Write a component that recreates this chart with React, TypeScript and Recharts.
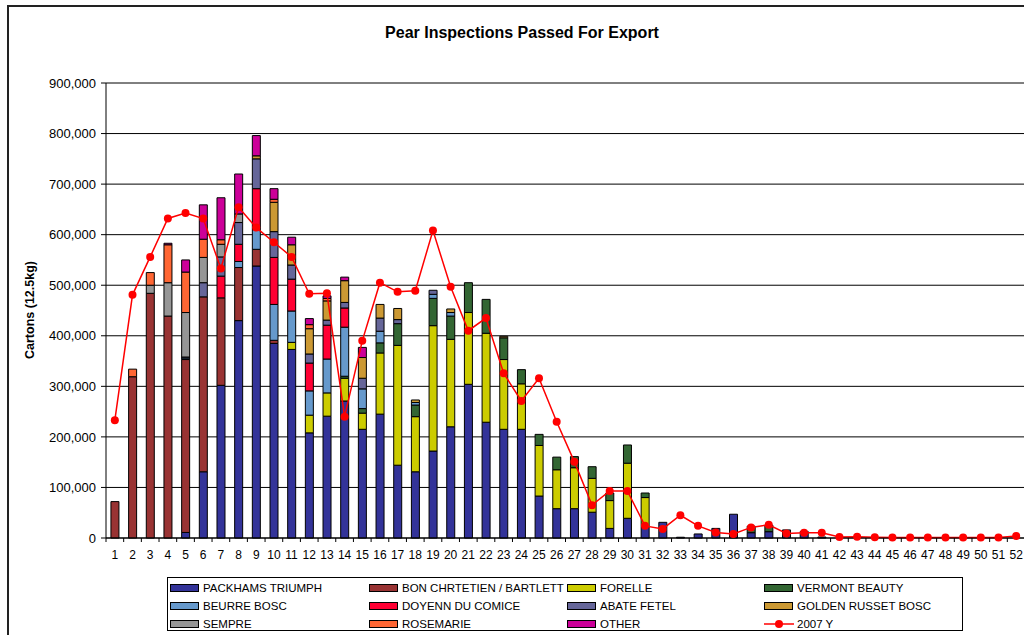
import React from "react";
import { ComposedChart, Bar, Line, XAxis, YAxis, CartesianGrid } from "recharts";

const WEEKS = ["1","2","3","4","5","6","7","8","9","10","11","12","13","14","15","16","17","18","19","20","21","22","23","24","25","26","27","28","29","30","31","32","33","34","35","36","37","38","39","40","41","42","43","44","45","46","47","48","49","50","51","52"];

const PACKHAMS = [0,0,0,0,11000,131000,302000,430000,538000,385000,
  373000,208000,241000,271000,215000,245000,144000,131000,172000,220000,
  304000,229000,215000,215000,83000,58000,58000,51000,19000,39000,
  22000,31000,1500,8000,19000,47000,10500,12500,16000,13000,
  2000,0,0,0,0,0,0,0,0,0,
  0,0];
const BARTLETT = [72000,319000,484000,439000,342000,346000,173000,105000,33000,6000,
  0,0,0,0,0,0,0,0,0,0,
  0,0,0,0,0,0,0,0,0,0,
  0,0,0,0,0,0,0,0,0,0,
  0,0,0,0,0,0,0,0,0,0,
  0,0];
const FORELLE = [0,0,0,0,0,0,0,0,0,0,
  14000,35000,46000,45000,32000,121000,237000,109000,248000,173000,
  142000,176000,138000,90000,100000,77000,81000,67000,55000,109000,
  58000,0,0,0,0,0,0,0,0,0,
  0,0,0,0,0,0,0,0,0,0,
  0,0];
const VERMONT = [0,0,0,0,0,0,0,0,0,0,
  0,0,0,4000,9000,20000,43000,23000,54000,46000,
  59000,67000,43000,28000,22000,25000,22000,23000,15000,36000,
  9000,0,0,0,0,0,13000,13000,0,0,
  0,0,0,0,0,0,0,0,0,0,
  0,0];
const BEURRE_BOSC = [0,0,0,0,3000,0,0,12000,39000,71000,
  62000,48000,67000,97000,39000,23000,0,5000,8000,7000,
  0,0,0,0,0,0,0,0,0,0,
  0,0,0,0,0,0,0,0,0,0,
  0,0,0,0,0,0,0,0,0,0,
  0,0];
const DOYENNE = [0,0,0,0,0,0,43000,34000,81000,93000,
  63000,55000,67000,38000,0,0,0,0,0,0,
  0,0,0,0,0,0,0,0,0,0,
  0,0,0,0,0,0,0,0,0,0,
  0,0,0,0,0,0,0,0,0,0,
  0,0];
const ABATE = [0,0,0,0,2000,28000,38000,43000,59000,51000,
  28000,18000,10000,11000,21000,26000,8000,0,8000,0,
  0,0,0,0,0,0,0,0,0,0,
  0,0,0,0,0,0,0,0,0,0,
  0,0,0,0,0,0,0,0,0,0,
  0,0];
const GOLDEN = [0,0,0,0,0,0,0,0,6000,58000,
  40000,50000,38000,43000,41000,27000,22000,5000,0,7000,
  0,0,3000,0,0,0,0,0,0,0,
  0,0,0,0,0,0,0,0,0,0,
  0,0,0,0,0,0,0,0,0,0,
  0,0];
const SEMPRE = [0,0,16000,66000,88000,50000,25000,17000,0,0,
  0,0,0,0,0,0,0,0,0,0,
  0,0,0,0,0,0,0,0,0,0,
  0,0,0,0,0,0,0,0,0,0,
  0,0,0,0,0,0,0,0,0,0,
  0,0];
const ROSEMARIE = [0,15000,25000,75000,80000,36000,9000,0,0,6000,
  0,8000,5000,0,0,0,0,0,0,0,
  0,0,0,0,0,0,0,0,0,0,
  0,0,0,0,0,0,0,0,0,0,
  0,0,0,0,0,0,0,0,0,0,
  0,0];
const OTHER = [0,0,0,3000,24000,68000,83000,79000,40000,21000,
  15000,12000,5000,7000,20000,0,0,0,0,0,
  0,0,0,0,0,0,0,0,0,0,
  0,0,0,0,0,0,0,0,0,0,
  0,0,0,0,0,0,0,0,0,0,
  0,0];
const Y2007 = [233000,481000,556000,632000,643000,632000,533000,654000,614000,585000,
  556000,483000,484000,240000,390000,505000,487000,489000,608000,497000,
  410000,435000,326000,271000,316000,230000,151000,65000,93000,93000,
  24000,18000,45000,24000,11000,8000,21000,26000,9000,10500,
  10500,2000,2500,1500,1000,1000,1000,1000,1000,1000,
  1000,4000];

const Y_TICKS = [0,100000,200000,300000,400000,500000,600000,700000,800000,900000];

const SERIES = [
  { key: "pack", name: "PACKHAMS TRIUMPH", values: PACKHAMS, color: "#333399" },
  { key: "bart", name: "BON CHRTETIEN / BARTLETT", values: BARTLETT, color: "#993333" },
  { key: "forelle", name: "FORELLE", values: FORELLE, color: "#CCCC00" },
  { key: "vermont", name: "VERMONT BEAUTY", values: VERMONT, color: "#336633" },
  { key: "bosc", name: "BEURRE BOSC", values: BEURRE_BOSC, color: "#6699CC" },
  { key: "doyenne", name: "DOYENN DU COMICE", values: DOYENNE, color: "#FF0033" },
  { key: "abate", name: "ABATE FETEL", values: ABATE, color: "#666699" },
  { key: "golden", name: "GOLDEN RUSSET BOSC", values: GOLDEN, color: "#CC9933" },
  { key: "sempre", name: "SEMPRE", values: SEMPRE, color: "#969696" },
  { key: "rosemarie", name: "ROSEMARIE", values: ROSEMARIE, color: "#FF6633" },
  { key: "other", name: "OTHER", values: OTHER, color: "#CC0099" },
];

const data = WEEKS.map((w, i) => {
  const row: any = { week: w, y2007: Y2007[i] };
  SERIES.forEach((s) => { row[s.key] = s.values[i]; });
  return row;
});

const FONT = "'Liberation Sans', Arial, sans-serif";
const STEP = 919 / 52;

const XTick = (props: any) => {
  const { x, y, payload, index } = props;
  return (
    <g>
      <line x1={x - STEP / 2} x2={x - STEP / 2} y1={y} y2={y + 4} stroke="#000" />
      {index === WEEKS.length - 1 && (
        <line x1={x + STEP / 2} x2={x + STEP / 2} y1={y} y2={y + 4} stroke="#000" />
      )}
      <text x={x} y={y + 12.5} dy="0.71em" textAnchor="middle" fontSize={12} fill="#000" fontFamily={FONT}>
        {payload.value}
      </text>
    </g>
  );
};

const COL_LEFT = [170, 369, 567, 764];
const ROW_MID = [588, 606, 624];
const LEG_LEFT = 167;
const LEG_TOP = 577;

const LEGEND_ITEMS = [
  SERIES[0], SERIES[1], SERIES[2], SERIES[3],
  SERIES[4], SERIES[5], SERIES[6], SERIES[7],
  SERIES[8], SERIES[9], SERIES[10], { key: "line", name: "2007 Y", color: "#FF0000" },
];

function LegendBox() {
  return (
    <div style={{ position: "absolute", left: LEG_LEFT, top: LEG_TOP, width: 796, height: 54, border: "1px solid #000", boxSizing: "border-box", background: "#fff" }}>
      {LEGEND_ITEMS.map((it, i) => {
        const col = i % 4;
        const row = Math.floor(i / 4);
        const left = COL_LEFT[col] - LEG_LEFT - 1;
        const mid = ROW_MID[row] - LEG_TOP - 1;
        return (
          <div key={it.key}>
            {it.key === "line" ? (
              <svg style={{ position: "absolute", left, top: mid - 5 }} width={30} height={10}>
                <line x1={0} x2={30} y1={5} y2={5} stroke="#FF0000" strokeWidth={1.5} />
                <circle cx={15} cy={5} r={4} fill="#FF0000" />
              </svg>
            ) : (
              <div style={{ position: "absolute", left, top: mid - 4, width: 29, height: 8, background: it.color, border: "1px solid #000", boxSizing: "border-box" }} />
            )}
            <div style={{ position: "absolute", left: left + 33, top: mid - 8, height: 16, lineHeight: "16px", fontSize: 11.5, fontFamily: FONT, color: "#000", whiteSpace: "nowrap" }}>
              {it.name}
            </div>
          </div>
        );
      })}
    </div>
  );
}

export default function App() {
  return (
    <div style={{ position: "absolute", left: 0, top: 0, width: 1024, height: 635, overflow: "hidden", background: "#fff", fontFamily: FONT }}>
      <div style={{ position: "absolute", left: 7, top: 5, width: 1100, height: 700, border: "2px solid #222", boxSizing: "border-box" }} />
      <div style={{ position: "absolute", left: 322, top: 23, width: 400, textAlign: "center", fontSize: 16, fontWeight: "bold", color: "#000", lineHeight: "20px" }}>
        Pear Inspections Passed For Export
      </div>
      <div style={{ position: "absolute", left: 30, top: 310, transform: "translate(-50%, -50%) rotate(-90deg)", fontSize: 12.5, fontWeight: "bold", color: "#000", whiteSpace: "nowrap" }}>
        Cartons (12.5kg)
      </div>
      <div style={{ position: "absolute", left: 0, top: 0 }}>
        <ComposedChart width={1040} height={575} data={data} margin={{ top: 83, right: 15, left: 46, bottom: 12 }} barCategoryGap="28%">
          <CartesianGrid vertical={false} stroke="#000" strokeWidth={1} />
          <XAxis dataKey="week" interval={0} tickSize={0} tickMargin={0} tick={<XTick />} axisLine={{ stroke: "#000" }} height={25} />
          <YAxis
            width={60}
            domain={[0, 900000]}
            ticks={Y_TICKS}
            interval={0}
            tickSize={5}
            tickMargin={5}
            axisLine={{ stroke: "#000" }}
            tickLine={{ stroke: "#000" }}
            tick={{ fontSize: 13, fill: "#000", fontFamily: FONT }}
            tickFormatter={(v: number) => v.toLocaleString("en-US")}
          />
          {SERIES.map((s) => (
            <Bar key={s.key} dataKey={s.key} name={s.name} stackId="a" fill={s.color} stroke="#000" strokeWidth={1} isAnimationActive={false} />
          ))}
          <Line type="linear" dataKey="y2007" name="2007 Y" stroke="#FF0000" strokeWidth={1.5} dot={{ r: 4, fill: "#FF0000", stroke: "#FF0000", strokeWidth: 0 }} isAnimationActive={false} />
        </ComposedChart>
      </div>
      <LegendBox />
    </div>
  );
}
